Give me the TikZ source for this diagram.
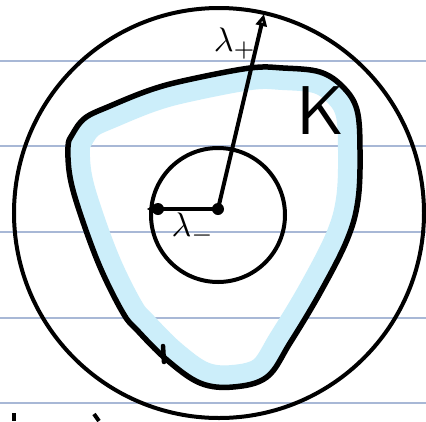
\documentclass[tikz,border=0pt]{standalone}
\usetikzlibrary{arrows.meta}
\definecolor{ruleblue}{RGB}{168,184,214}
\definecolor{bandblue}{RGB}{204,238,250}
\tikzset{
  ruled/.style={ruleblue, line width=1.4pt},
  ring/.style={black, line width=4pt},
  blobline/.style={black, line width=5.5pt, line join=round, line cap=round},
  radius arrow/.style={black, line width=4pt, line cap=round},
  lab/.style={inner sep=0pt, scale=3.4},
}
\begin{document}
\begin{tikzpicture}[x=1pt,y=-1pt]
\useasboundingbox (0,0) rectangle (426,421);
\fill[white] (0,0) rectangle (426,421);
% ruled notebook lines
\foreach \yy in {61,146,232,318,403} \draw[ruled] (0,\yy) -- (426,\yy);
% blob path
\def\blob{plot[smooth cycle, tension=0.6] coordinates {(85,118) (110,106) (150,90) (187,80) (250,68) (283,68) (320,72) (343,87) (357,110) (360,150) (358,200) (347,240) (320,293) (290,343) (267,377) (233,387) (200,383) (167,360) (137,330) (123,313) (100,267) (80,213) (70,177) (68,147) (72,135)}}
\begin{scope}
  \clip \blob;
  \draw[bandblue, line width=44pt, line join=round] \blob;
\end{scope}
\draw[blobline] \blob;
\draw[blobline, line width=4.5pt] (164,362) -- (163,346);
% circles
\coordinate (O) at (218,209);
\draw[ring] (219,213) circle[radius=205pt];
\draw[ring] (218,215) circle[radius=67pt];
% radii
\coordinate (Lm) at (147,209);
\coordinate (Lp) at (264,14);
\coordinate (Ld) at (158,209);
\draw[radius arrow, -{Stealth[length=8pt,width=9pt]}] (O) -- (Lm);
\draw[radius arrow, -{Triangle[open,length=12pt,width=11pt,line width=3pt]}] (O) -- (Lp);
\fill (O) circle[radius=6pt];
\fill (Ld) circle[radius=6pt];
% labels
\node[lab] (lp) at (235,44) {$\lambda_+$};
\node[lab] (lm) at (193,229) {$\lambda_-$};
\node[inner sep=0pt, font=\sffamily, scale=6.9] (K) at (320,111) {K};
% cut-off strokes at the bottom
\draw[black, line width=4pt] (14,413) -- (14,421);
\draw[black, line width=4pt] (94,414) -- (99,421);
\end{tikzpicture}
\end{document}
